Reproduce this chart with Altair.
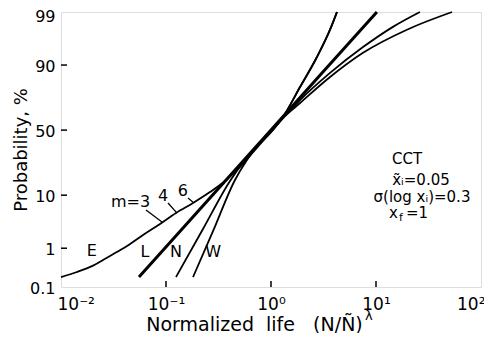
import altair as alt
import pandas as pd
from statistics import NormalDist

_nd = NormalDist()


def zq(p):
    return _nd.inv_cdf(p / 100.0)


# ---- data (x = normalized life, p = probability %) ----
E_x = [0.0100, 0.0142, 0.0202, 0.0293, 0.0425, 0.0604, 0.0877, 0.1245, 0.181, 0.262, 0.365, 0.507,
       0.705, 0.978, 1.30, 1.89, 3.65, 7.52, 19.7, 53.0]
E_p = [0.19, 0.26, 0.38, 0.66, 1.12, 1.94, 3.22, 5.13, 7.55, 11.1, 15.8, 23.4,
       34.8, 47.7, 59.4, 70.3, 85.2, 93.6, 97.6, 99.0]
Em_x = [0.978, 1.30, 1.89, 3.65, 7.52, 14.5, 26.2]
Em_p = [47.7, 59.4, 72.3, 87.0, 94.9, 97.9, 99.0]
L_x = [0.0553, 0.2, 1.0, 3.0, 10.2]
L_p = [0.19, 5.4, 50.0, 86.5, 99.0]
N_x = [0.1245, 0.225, 0.407, 0.565, 0.751, 0.978, 1.30, 1.89, 2.74, 3.65, 4.25]
N_p = [0.19, 2.57, 15.8, 27.8, 38.5, 47.7, 60.2, 80.2, 92.5, 97.6, 99.0]
W_x = [0.181, 0.281, 0.454, 0.590, 0.751, 0.978, 1.30, 1.89, 2.74, 3.65, 4.25]
W_p = [0.19, 2.35, 16.3, 27.8, 38.5, 47.7, 60.2, 80.2, 92.5, 97.6, 99.0]

y_ticks = [0.1, 1, 10, 50, 90, 99]
y_labels = ["0.1", "1", "10", "50", "90", "99"]
x_ticks = [0.01, 0.1, 1, 10, 100]
x_labels = ["10⁻²", "10⁻¹", "10⁰", "10¹", "10²"]

lab_text = ["E", "L", "N", "W", "m=3", "4", "6"]
lab_x = [0.0197, 0.063, 0.1245, 0.281, 0.0459, 0.0936, 0.145]
lab_p = [0.86, 0.82, 0.82, 0.82, 7.8, 9.7, 11.5]

lead_x1 = [0.0645, 0.1045, 0.162]
lead_p1 = [5.8, 7.55, 9.06]
lead_x2 = [0.0916, 0.1274, 0.181]
lead_p2 = [3.5, 5.1, 7.8]

FONT = "DejaVu Sans"
W, H = 420, 275

rows = []
for name, xs_, ps_ in [("E", E_x, E_p), ("Em", Em_x, Em_p), ("N", N_x, N_p), ("W", W_x, W_p)]:
    for i, (x, p) in enumerate(zip(xs_, ps_)):
        rows.append({"series": name, "x": x, "z": zq(p), "o": i})
thin = pd.DataFrame(rows)
thick = pd.DataFrame({"series": "L", "x": L_x, "z": [zq(p) for p in L_p], "o": list(range(len(L_x)))})

zmin, zmax = zq(0.1), zq(99)
xs = alt.Scale(type="log", domain=[0.01, 100], nice=False)
ys = alt.Scale(domain=[zmin, zmax], nice=False, zero=False)

zt = [zq(p) for p in y_ticks]
ylab_expr = ""
for i in range(len(zt) - 1):
    thr = (zt[i] + zt[i + 1]) / 2
    ylab_expr += f"datum.value < {thr:.4f} ? '{y_labels[i]}' : "
ylab_expr += f"'{y_labels[-1]}'"

xlab_expr = ""
for i in range(len(x_ticks) - 1):
    thr = (x_ticks[i] * x_ticks[i + 1]) ** 0.5
    xlab_expr += f"datum.value < {thr} ? '{x_labels[i]}' : "
xlab_expr += f"'{x_labels[-1]}'"

x_axis = alt.Axis(values=x_ticks, labelExpr=xlab_expr, ticks=False, domain=False, grid=False,
                  labelFlush=True, labelFlushOffset=4, labelPadding=9, labelFont=FONT,
                  labelFontSize=17, labelColor="black",
                  title="Normalized\u00a0\u00a0life\u00a0\u00a0\u00a0(N/Ñ)", titleFont=FONT, titleFontSize=19,
                  titleFontWeight="normal", titleColor="black", titleX=193, titleY=43,
                  titleAlign="center", titleBaseline="alphabetic")
y_axis = alt.Axis(values=zt, labelExpr=ylab_expr, ticks=False, domain=False, grid=False,
                  labelPadding=6,
                  labelOffset={"condition": {"test": "datum.value > 2", "value": 4}, "value": 1},
                  labelFont=FONT, labelFontSize=16, labelColor="black",
                  title="Probability, %", titleFont=FONT, titleFontSize=18, titleFontWeight="normal",
                  titleColor="black", titleX=-40, titleY=H / 2, titleAngle=270,
                  titleAlign="center", titleBaseline="middle")

base_x = alt.X("x:Q", scale=xs, axis=x_axis)
base_y = alt.Y("z:Q", scale=ys, axis=y_axis)

thin_lines = alt.Chart(thin).mark_line(color="black", strokeWidth=1.8, interpolate="monotone").encode(
    x=base_x, y=base_y, detail="series:N", order="o:Q")
thick_line = alt.Chart(thick).mark_line(color="black", strokeWidth=3).encode(
    x=alt.X("x:Q", scale=xs), y=alt.Y("z:Q", scale=ys), order="o:Q")

ytk = pd.DataFrame({"z": [zq(p) for p in y_ticks[1:-1]]})
ytick_rules = alt.Chart(ytk).mark_rule(color="black", strokeWidth=1.5).encode(
    y=alt.Y("z:Q", scale=ys), x=alt.value(0), x2=alt.value(6))
xtk = pd.DataFrame({"x": x_ticks[1:-1]})
xtick_rules = alt.Chart(xtk).mark_rule(color="black", strokeWidth=1.5).encode(
    x=alt.X("x:Q", scale=xs), y=alt.value(H), y2=alt.value(H - 6))

labs = pd.DataFrame({"t": lab_text, "x": lab_x, "z": [zq(p) for p in lab_p]})
label_text = alt.Chart(labs).mark_text(font=FONT, fontSize=16, color="black").encode(
    x=alt.X("x:Q", scale=xs), y=alt.Y("z:Q", scale=ys), text="t:N")

leads = pd.DataFrame({"x1": lead_x1, "z1": [zq(p) for p in lead_p1],
                      "x2": lead_x2, "z2": [zq(p) for p in lead_p2]})
leader_rules = alt.Chart(leads).mark_rule(color="black", strokeWidth=1.3).encode(
    x=alt.X("x1:Q", scale=xs), y=alt.Y("z1:Q", scale=ys), x2="x2:Q", y2="z2:Q")


def txt(s, x, y, size=15, align="center"):
    return alt.Chart(pd.DataFrame({"t": [s]})).mark_text(
        font=FONT, fontSize=size, color="black", align=align, baseline="middle").encode(
        text="t:N", x=alt.value(x), y=alt.value(y))


notes = [
    txt("CCT", 346, 147),
    txt("x̃ᵢ=0.05", 360, 168),
    txt("σ(log xᵢ)=0.3", 361, 185),
    txt("x", 328, 201, align="left"),
    txt("f", 338, 206, size=11, align="left"),
    txt("=1", 345, 201, align="left"),
    txt("λ", 304, 304, size=13, align="left"),
]

chart = alt.layer(thin_lines, thick_line, ytick_rules, xtick_rules, label_text, leader_rules, *notes).properties(
    width=W, height=H,
    autosize=alt.AutoSizeParams(type="none"),
    padding={"left": 53, "top": 4, "right": 3, "bottom": 46},
).configure_view(stroke="black", strokeWidth=2.2).configure(background="white")

chart.save("out.html", embed_options={"renderer": "svg", "actions": False})
